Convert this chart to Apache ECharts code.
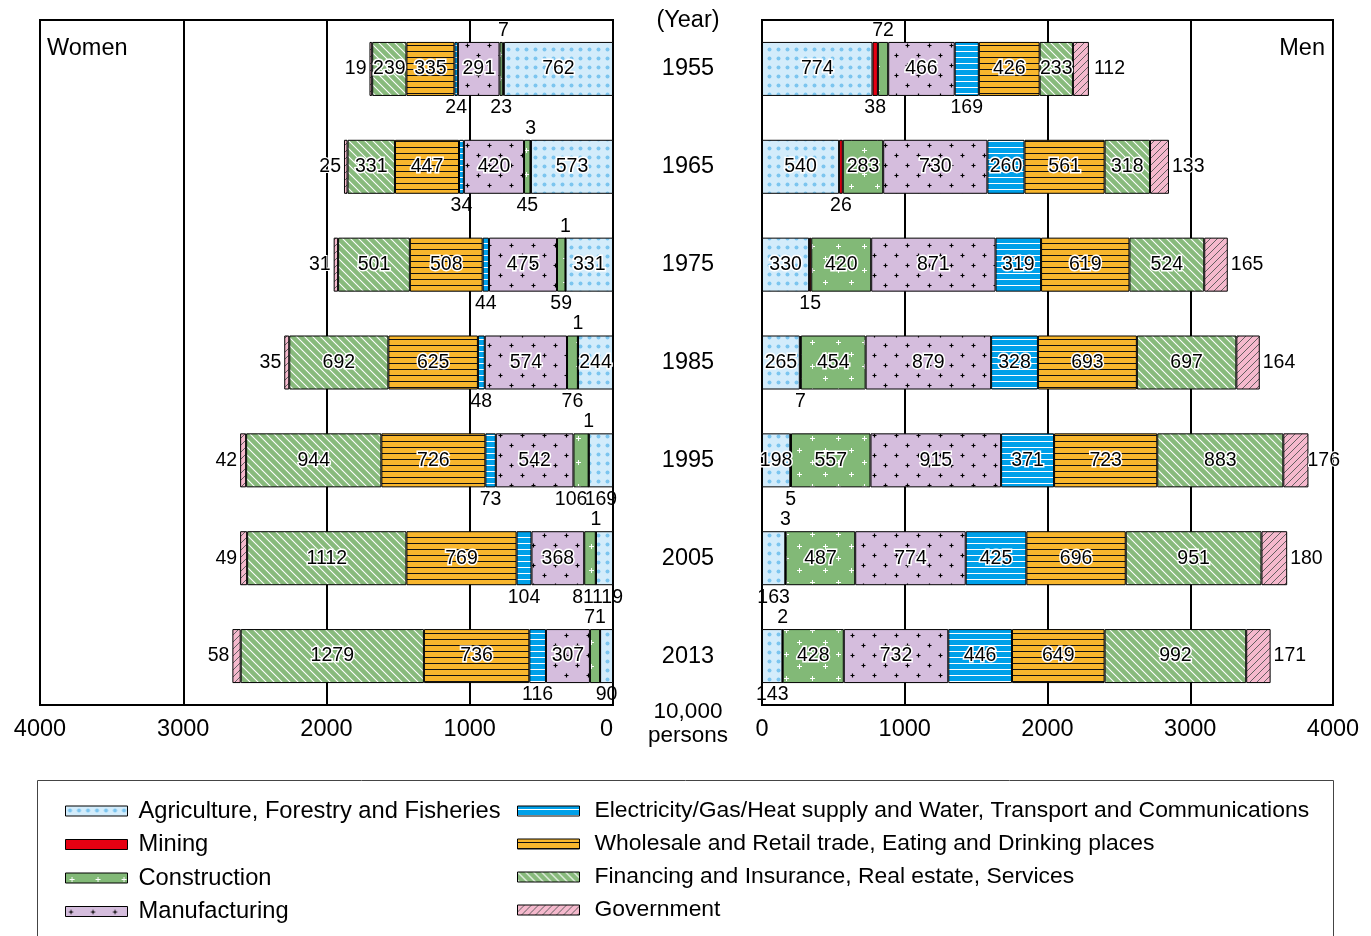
<!DOCTYPE html>
<html><head><meta charset="utf-8">
<script src="https://cdn.jsdelivr.net/npm/echarts@6/dist/echarts.min.js"></script>
<style>html,body{margin:0;padding:0;background:#fff}#c{width:1371px;height:936px}</style>
</head><body><div id="c"></div>
<script>
// ---------- data ----------
const years = ['1955','1965','1975','1985','1995','2005','2013'];
const industries = [
  'Agriculture, Forestry and Fisheries',
  'Mining',
  'Construction',
  'Manufacturing',
  'Electricity/Gas/Heat supply and Water, Transport and Communications',
  'Wholesale and Retail trade, Eating and Drinking places',
  'Financing and Insurance, Real estate, Services',
  'Government'
];
const womenAgri          = [762,573,331,244,169,119,90];
const womenMining        = [7,3,1,1,1,1,0];
const womenConstruction  = [23,45,59,76,106,81,71];
const womenManufacturing = [291,420,475,574,542,368,307];
const womenElectricity   = [24,34,44,48,73,104,116];
const womenWholesale     = [335,447,508,625,726,769,736];
const womenFinancing     = [239,331,501,692,944,1112,1279];
const womenGovernment    = [19,25,31,35,42,49,58];

const menAgri          = [774,540,330,265,198,163,143];
const menMining        = [38,26,15,7,5,3,2];
const menConstruction  = [72,283,420,454,557,487,428];
const menManufacturing = [466,730,871,879,915,774,732];
const menElectricity   = [169,260,319,328,371,425,446];
const menWholesale     = [426,561,619,693,723,696,649];
const menFinancing     = [233,318,524,697,883,951,992];
const menGovernment    = [112,133,165,164,176,180,171];

const axisMax = 4000, axisStep = 1000;

// ---------- label placement (style) ----------
// i = inside, t = above, b = below, o = outer end, n = none
const womenLabelPos = [
  ['i','i','i','i','b','b','b'],
  ['t','t','t','t','t','t','n'],
  ['b','b','b','b','b','b','t'],
  ['i','i','i','i','i','i','i'],
  ['b','b','b','b','b','b','b'],
  ['i','i','i','i','i','i','i'],
  ['i','i','i','i','i','i','i'],
  ['o','o','o','o','o','o','o']
];
const menLabelPos = [
  ['i','i','i','i','i','b','b'],
  ['b','b','b','b','b','t','t'],
  ['t','i','i','i','i','i','i'],
  ['i','i','i','i','i','i','i'],
  ['b','i','i','i','i','i','i'],
  ['i','i','i','i','i','i','i'],
  ['i','i','i','i','i','i','i'],
  ['o','o','o','o','o','o','o']
];
// small horizontal nudges (px) to keep crowded labels apart: [sex, industry, yearIndex, dx]
const labelNudges = [
  ['w',2,4,-10],['w',2,5,-7],['w',0,5,3],
  ['m',7,4,-4],['m',7,0,2]
];

// ---------- patterns ----------
function cv(w,h,bg){const c=document.createElement('canvas');c.width=w;c.height=h;const x=c.getContext('2d');x.fillStyle=bg;x.fillRect(0,0,w,h);return [c,x];}
function plus(x,cx,cy,s,col,lw){x.strokeStyle=col;x.lineWidth=lw;x.beginPath();x.moveTo(cx-s,cy);x.lineTo(cx+s,cy);x.moveTo(cx,cy-s);x.lineTo(cx,cy+s);x.stroke();}
function patAgri(){const [c,x]=cv(9,9,'#d3ecfb');x.fillStyle='#7cc5ef';x.beginPath();x.arc(4.5,4.5,2,0,Math.PI*2);x.fill();return c;}
function patConstr(){const [c,x]=cv(26,24,'#82b977');plus(x,6.5,6.5,2.5,'#fff',1);plus(x,19.5,18.5,2.5,'#fff',1);return c;}
function patManu(){const [c,x]=cv(22,20,'#d5bddd');plus(x,5.5,5.5,2,'#000',1.2);plus(x,16.5,15.5,2,'#000',1.2);return c;}
function patElec(){const [c,x]=cv(8,6,'#00a0e9');x.fillStyle='#fff';x.fillRect(0,3,8,1);return c;}
function patWhole(){const [c,x]=cv(8,6,'#f8b62d');x.fillStyle='#111';x.fillRect(0,3,8,1);return c;}
function patFin(){const s=8;const [c,x]=cv(s,s,'#88ba7c');x.strokeStyle='#fff';x.lineWidth=1.1;x.beginPath();x.moveTo(-1,-1);x.lineTo(s+1,s+1);x.moveTo(-1,s-1);x.lineTo(1,s+1);x.moveTo(s-1,-1);x.lineTo(s+1,1);x.stroke();return c;}
function patGov(){const s=7;const [c,x]=cv(s,s,'#f5b9cd');x.strokeStyle='#555';x.lineWidth=0.9;x.beginPath();x.moveTo(-1,s+1);x.lineTo(s+1,-1);x.moveTo(-1,1);x.lineTo(1,-1);x.moveTo(s-1,s+1);x.lineTo(s+1,s-1);x.stroke();return c;}
const fills = [
  {image:patAgri(),repeat:'repeat'},
  '#e60012',
  {image:patConstr(),repeat:'repeat'},
  {image:patManu(),repeat:'repeat'},
  {image:patElec(),repeat:'repeat'},
  {image:patWhole(),repeat:'repeat'},
  {image:patFin(),repeat:'repeat'},
  {image:patGov(),repeat:'repeat'}
];

const FONT = 'Liberation Sans, Arial, Helvetica, sans-serif';
const FS = 23.5;
const womenData = [womenAgri,womenMining,womenConstruction,womenManufacturing,womenElectricity,womenWholesale,womenFinancing,womenGovernment];
const menData = [menAgri,menMining,menConstruction,menManufacturing,menElectricity,menWholesale,menFinancing,menGovernment];

function labelFor(code, outer, dx){
  const base = {show:true,fontSize:19.5,fontFamily:FONT,color:'#000',formatter:'{c}',offset:[dx||0,0]};
  if(code==='n') return {show:false};
  if(code==='i') return Object.assign(base,{position:'inside',textBorderColor:'#fff',textBorderWidth:3});
  if(code==='t') return Object.assign(base,{position:'top',distance:1});
  if(code==='b') return Object.assign(base,{position:'bottom',distance:2});
  return Object.assign(base,{position:outer,distance:3,textBorderColor:'#fff',textBorderWidth:2});
}
function nudge(sex,k,j){const n=labelNudges.find(a=>a[0]===sex&&a[1]===k&&a[2]===j);return n?n[3]:0;}

const series = [];
function addSide(dataArr,posArr,gi,outer,stack,sex){
  dataArr.forEach((vals,k)=>{
    series.push({
      type:'bar',name:industries[k],stack:stack,xAxisIndex:gi,yAxisIndex:gi,
      barWidth:54,
      itemStyle:{color:fills[k],borderColor:'#000',borderWidth:1},
      emphasis:{disabled:true},
      data:vals.map((v,j)=>({value:v,label:labelFor(v===0?'n':posArr[k][j],outer,nudge(sex,k,j))}))
    });
  });
}
addSide(womenData,womenLabelPos,0,'left','w','w');
addSide(menData,menLabelPos,1,'right','m','m');

const xAxisCommon = {
  type:'value',min:0,max:axisMax,interval:axisStep,
  axisLine:{show:true,lineStyle:{color:'#000',width:2}},
  axisTick:{show:false},
  splitLine:{show:true,lineStyle:{color:'#000',width:2}},
  axisLabel:{fontSize:FS,fontFamily:FONT,color:'#000',margin:13,formatter:v=>String(v)}
};

const option = {
  animation:false,
  textStyle:{fontFamily:FONT},
  grid:[
    {left:40,right:758,top:20,bottom:231,show:true,borderColor:'#000',borderWidth:2,containLabel:false},
    {left:762,right:38,top:20,bottom:231,show:true,borderColor:'#000',borderWidth:2,containLabel:false}
  ],
  xAxis:[
    Object.assign({gridIndex:0,inverse:true},xAxisCommon,{axisLabel:Object.assign({},xAxisCommon.axisLabel,{alignMinLabel:'right'})}),
    Object.assign({gridIndex:1},xAxisCommon)
  ],
  yAxis:[
    {gridIndex:0,type:'category',data:years,inverse:true,show:false},
    {gridIndex:1,type:'category',data:years,inverse:true,
     axisLine:{show:false},axisTick:{show:false},splitLine:{show:false},
     axisLabel:{show:true,align:'center',margin:74,fontSize:FS,fontFamily:FONT,color:'#000'}}
  ],
  legend:[
    {left:65,top:799,orient:'vertical',padding:0,itemGap:9.5,itemWidth:62,itemHeight:10,icon:'rect',
     data:industries.slice(0,4),selectedMode:false,
     itemStyle:{borderColor:'#000',borderWidth:1},
     textStyle:{fontSize:23.7,fontFamily:FONT,color:'#000',padding:[0,0,0,6]}},
    {left:517,top:799.5,orient:'vertical',padding:0,itemGap:10,itemWidth:62,itemHeight:10,icon:'rect',
     data:industries.slice(4),selectedMode:false,
     itemStyle:{borderColor:'#000',borderWidth:1},
     textStyle:{fontSize:22.9,fontFamily:FONT,color:'#000',padding:[0,0,0,10]}}
  ],
  graphic:[
    {type:'rect',shape:{x:37.5,y:780.5,width:1296,height:170},style:{fill:'none',stroke:'#444',lineWidth:1},z:-1},
    {type:'text',left:47,top:37,style:{text:'Women',fontSize:FS,fontFamily:FONT,fill:'#000'}},
    {type:'text',right:46,top:37,style:{text:'Men',fontSize:FS,fontFamily:FONT,fill:'#000'}},
    {type:'text',x:688,y:21,style:{text:'(Year)',fontSize:FS,fontFamily:FONT,fill:'#000',align:'center',verticalAlign:'middle'}},
    {type:'text',x:688,y:712,style:{text:'10,000',fontSize:22.5,fontFamily:FONT,fill:'#000',align:'center',verticalAlign:'middle'}},
    {type:'text',x:688,y:736,style:{text:'persons',fontSize:22.5,fontFamily:FONT,fill:'#000',align:'center',verticalAlign:'middle'}}
  ],
  series:series
};
const chart = echarts.init(document.getElementById('c'),null,{renderer:'canvas'});
chart.setOption(option);
</script></body></html>
